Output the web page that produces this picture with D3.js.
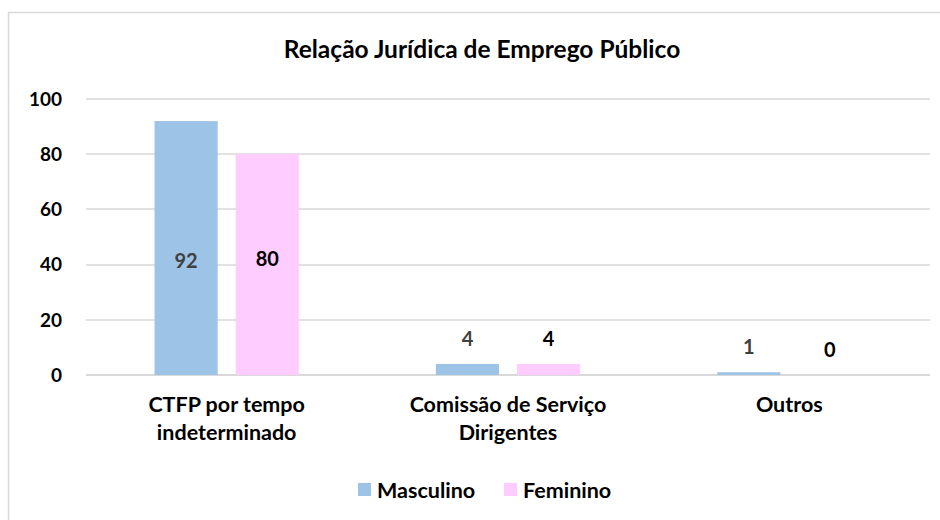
<!DOCTYPE html>
<html>
<head>
<meta charset="utf-8">
<script src="https://cdn.jsdelivr.net/npm/d3@7"></script>
<style>
  body { margin: 0; background: #fff; }
  text { font-family: Lato, "Open Sans", sans-serif; font-weight: bold; }
</style>
</head>
<body>
<svg id="chart" width="940" height="520"></svg>
<script>
// chart data
const categories = [["CTFP por tempo", "indeterminado"], ["Comissão de Serviço", "Dirigentes"], ["Outros"]];
const seriesNames = ["Masculino", "Feminino"];
const masculino = [92, 4, 1];
const feminino = [80, 4, 0];
const yTicks = [0, 20, 40, 60, 80, 100];

const colors = ["#9dc3e6", "#ffccff"];
const labelColors = ["#404040", "#000"];

const width = 940, height = 520;
const margin = { top: 99, right: 10, bottom: 145, left: 86 };

const svg = d3.select("#chart");

// outer frame (runs off the right / bottom edge)
svg.append("rect")
    .attr("x", 8.5).attr("y", 12.5)
    .attr("width", 940).attr("height", 520)
    .attr("fill", "#fff")
    .attr("stroke", "#d9d9d9")
    .attr("stroke-width", 1.5);

svg.append("text")
    .attr("x", 482).attr("y", 58)
    .attr("text-anchor", "middle")
    .attr("font-size", 24.5)
    .attr("fill", "#000")
    .text("Relação Jurídica de Emprego Público");

const x0 = d3.scaleBand()
    .domain(d3.range(categories.length))
    .range([margin.left, width - margin.right]);

const x1 = d3.scaleBand()
    .domain(d3.range(seriesNames.length))
    .range([0, x0.bandwidth()])
    .paddingInner(0.222)
    .paddingOuter(0.845);

const y = d3.scaleLinear()
    .domain([0, 100])
    .range([height - margin.bottom, margin.top]);

// grid
svg.append("g")
    .selectAll("line")
    .data(yTicks)
    .join("line")
    .attr("x1", margin.left).attr("x2", width - margin.right)
    .attr("y1", d => Math.round(y(d)))
    .attr("y2", d => Math.round(y(d)))
    .attr("stroke", "#d9d9d9")
    .attr("stroke-width", d => d == 0 ? 2 : 1.5);

// y labels
svg.append("g")
    .selectAll("text")
    .data(yTicks)
    .join("text")
    .attr("x", 62)
    .attr("y", d => y(d))
    .attr("dy", "0.36em")
    .attr("text-anchor", "end")
    .attr("font-size", 19)
    .attr("fill", "#000")
    .text(d => d);

const series = [masculino, feminino];
const groups = svg.append("g")
    .selectAll("g")
    .data(series)
    .join("g");

groups.selectAll("rect")
    .data((s, si) => s.map((v, i) => ({ v, i, si })))
    .join("rect")
    .attr("x", d => x0(d.i) + x1(d.si))
    .attr("y", d => y(d.v))
    .attr("width", x1.bandwidth())
    .attr("height", d => y(0) - y(d.v))
    .attr("fill", d => colors[d.si]);

// value labels
groups.selectAll("text")
    .data((s, si) => s.map((v, i) => ({ v, i, si })))
    .join("text")
    .attr("x", d => x0(d.i) + x1(d.si) + x1.bandwidth() / 2)
    .attr("y", d => d.v > 20 ? (y(d.v) + y(0)) / 2 + (d.si == 0 ? 13 : -6) : y(d.v) - 25)
    .attr("dy", "0.36em")
    .attr("text-anchor", "middle")
    .attr("font-size", 20)
    .attr("fill", d => labelColors[d.si])
    .text(d => d.v);

// category labels
const cat = svg.append("g")
    .selectAll("text")
    .data(categories)
    .join("text")
    .attr("x", (d, i) => x0(i) + x0.bandwidth() / 2)
    .attr("y", 412)
    .attr("text-anchor", "middle")
    .attr("font-size", 21.5)
    .attr("fill", "#000");

cat.selectAll("tspan")
    .data(d => d)
    .join("tspan")
    .attr("x", function() { return this.parentNode.getAttribute("x"); })
    .attr("dy", (d, i) => i == 0 ? 0 : 28)
    .text(d => d);

// legend
const legendX = [358, 504];
const legend = svg.append("g")
    .selectAll("g")
    .data(seriesNames)
    .join("g")
    .attr("transform", (d, i) => `translate(${legendX[i]}, 483)`);

legend.append("rect")
    .attr("width", 13).attr("height", 13)
    .attr("fill", (d, i) => colors[i]);

legend.append("text")
    .attr("x", 19).attr("y", 7)
    .attr("dy", "0.36em")
    .attr("font-size", 21.5)
    .attr("fill", "#000")
    .text(d => d);
</script>
</body>
</html>
